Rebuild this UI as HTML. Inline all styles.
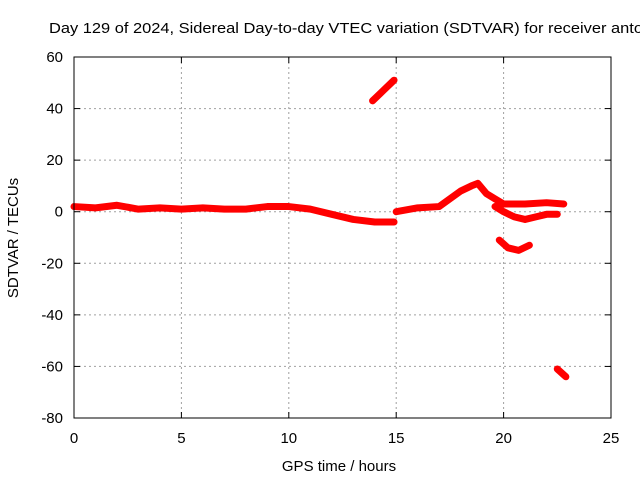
<!DOCTYPE html>
<html><head><meta charset="utf-8"><style>
body{margin:0;background:#fff;overflow:hidden;}
svg{display:block;font-family:"Liberation Sans",sans-serif;}
</style></head><body>
<svg id="chart" width="640" height="480">
<text x="49" y="33" font-size="15" textLength="594" lengthAdjust="spacingAndGlyphs">Day 129 of 2024, Sidereal Day-to-day VTEC variation (SDTVAR) for receiver anto</text>
<g id="grid"></g><g id="ticks"></g><g id="series"></g>
<rect x="74" y="57" width="537" height="361" fill="none" stroke="#000"/>
<text x="339" y="471" font-size="15" text-anchor="middle">GPS time / hours</text>
<text transform="translate(18,238) rotate(-90)" font-size="15" text-anchor="middle">SDTVAR / TECUs</text>
</svg>
<script>
const xTicks=[0,5,10,15,20,25];
const yTicks=[60,40,20,0,-20,-40,-60,-80];
const segMainX=[0,1,2,3,4,5,6,7,8,9,10,11,12,13,14,14.9];
const segMainY=[2,1.5,2.5,1,1.5,1,1.5,1,1,2,2,1,-1,-3,-4,-4];
const segLateX=[15,16,17,17.5,18,18.5,18.8,19.2,19.6,20,21,22,22.8];
const segLateY=[0,1.5,2,5,8,10,11,7,5,3,3,3.5,3];
const segBranchX=[19.6,20,20.5,21,21.5,22,22.5];
const segBranchY=[2,0,-2,-3,-2,-1,-1];
const segTopX=[13.9,14.4,14.9];
const segTopY=[43,47,51];
const segDipX=[19.8,20.2,20.7,21.2];
const segDipY=[-11,-14,-15,-13];
const segLowX=[22.5,22.9];
const segLowY=[-61,-64];
const X0=74,X1=611,Y0=418,Y1=57;
const sx=v=>X0+(v-0)/25*(X1-X0);
const sy=v=>Y0-(v+80)/140*(Y0-Y1);
const NS="http://www.w3.org/2000/svg";
const grid=document.getElementById('grid'),ticks=document.getElementById('ticks'),ser=document.getElementById('series');
function mk(tag,attrs,parent){const e=document.createElementNS(NS,tag);for(const k in attrs)e.setAttribute(k,attrs[k]);parent.appendChild(e);return e;}
xTicks.forEach(t=>{const x=sx(t);
 if(t>0&&t<25){const g=mk('line',{x1:x,x2:x,y1:Y1,y2:Y0,stroke:'#a0a0a0','stroke-dasharray':'2,3'},grid);
 
 }
 mk('line',{x1:x,x2:x,y1:Y0,y2:Y0-6,stroke:'#000'},ticks);mk('line',{x1:x,x2:x,y1:Y1,y2:Y1+6,stroke:'#000'},ticks);
 const l=mk('text',{x:x,y:443,'font-size':15,'text-anchor':'middle'},ticks);l.textContent=t;
 
 });
yTicks.forEach(t=>{const y=sy(t);
 if(t>-80&&t<60){const g=mk('line',{x1:X0,x2:X1,y1:y,y2:y,stroke:'#a0a0a0','stroke-dasharray':'2,3'},grid);
 
 }
 mk('line',{x1:X0,x2:X0+6,y1:y,y2:y,stroke:'#000'},ticks);mk('line',{x1:X1,x2:X1-6,y1:y,y2:y,stroke:'#000'},ticks);
 const l=mk('text',{x:63,y:y+5,'font-size':15,'text-anchor':'end'},ticks);l.textContent=t;
 
 });
[[segMainX,segMainY,'segment-main'],[segLateX,segLateY,'segment-late'],[segBranchX,segBranchY,'segment-branch'],[segTopX,segTopY,'segment-top'],[segDipX,segDipY,'segment-dip'],[segLowX,segLowY,'segment-low']].forEach(([xs,ys,n])=>{
 const pts=xs.map((v,i)=>sx(v)+','+sy(ys[i])).join(' ');
 const p=mk('polyline',{points:pts,fill:'none',stroke:'#ff0000','stroke-width':7,'stroke-linejoin':'round','stroke-linecap':'round'},ser);
 
 });
</script>
</body></html>
